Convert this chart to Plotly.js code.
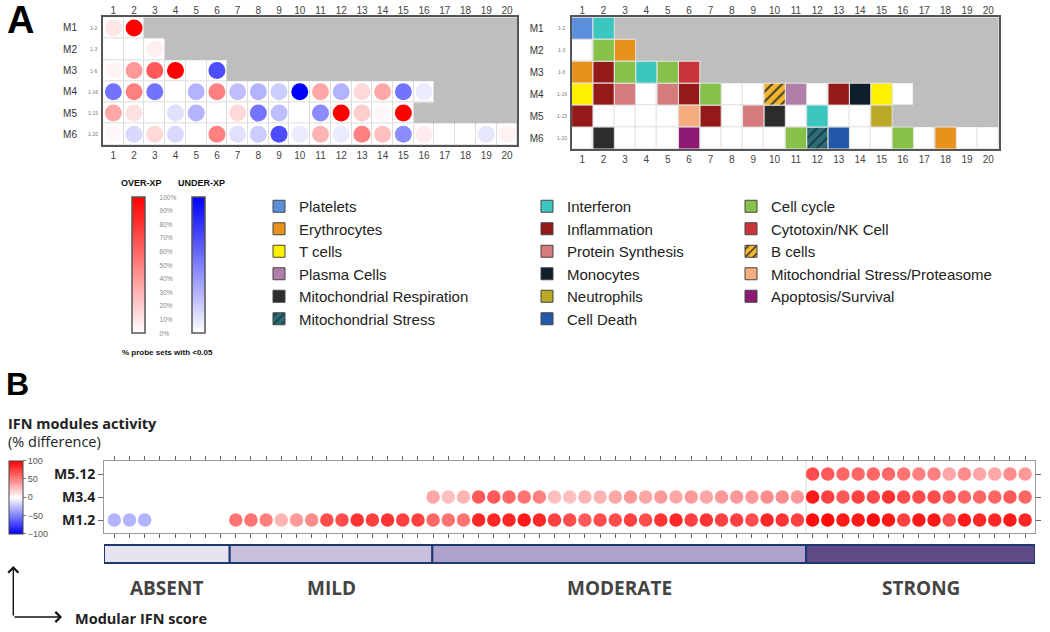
<!DOCTYPE html>
<html><head><meta charset="utf-8">
<script src="https://cdn.plot.ly/plotly-3.0.1.min.js"></script>
<style>html,body{margin:0;padding:0;background:#fff}#chart{width:1050px;height:632px}</style>
</head><body><div id="chart"></div>
<script>
// ---------------- Panel A data ----------------
const modules = ['M1','M2','M3','M4','M5','M6'];
const moduleRanges = ['1-2','1-3','1-6','1-16','1-15','1-20'];
const moduleCounts = [2,3,6,16,15,20];
const columns = [1,2,3,4,5,6,7,8,9,10,11,12,13,14,15,16,17,18,19,20];
// % probe sets (+ over-expressed, - under-expressed), null = no circle
const pctM1 = [10,100];
const pctM2 = [null,null,6];
const pctM3 = [4,40,65,100,null,-70];
const pctM4 = [-55,50,-55,null,-30,50,-25,-30,-20,-100,35,-30,15,35,-55,-8];
const pctM5 = [35,12,null,-12,-30,null,15,-55,-25,null,-45,100,20,3,100];
const pctM6 = [3,-15,15,-15,null,50,-12,-20,-70,-8,30,-8,50,25,-45,8,null,null,-10,5];
// functional annotation of each module (null = not annotated)
const annM1 = ['Platelets','Interferon'];
const annM2 = [null,'Cell cycle','Erythrocytes'];
const annM3 = ['Erythrocytes','Inflammation','Cell cycle','Interferon','Cell cycle','Cytotoxin/NK Cell'];
const annM4 = ['T cells','Inflammation','Protein Synthesis',null,'Protein Synthesis','Inflammation','Cell cycle',null,null,'B cells','Plasma Cells',null,'Inflammation','Monocytes','T cells',null];
const annM5 = ['Inflammation',null,null,null,null,'Mitochondrial Stress/Proteasome','Inflammation',null,'Protein Synthesis','Mitochondrial Respiration',null,'Interferon',null,null,'Neutrophils'];
const annM6 = [null,'Mitochondrial Respiration',null,null,null,'Apoptosis/Survival',null,null,null,null,'Cell cycle','Mitochondrial Stress','Cell Death',null,null,'Cell cycle',null,'Erythrocytes',null,null];
const legendCol1 = ['Platelets','Erythrocytes','T cells','Plasma Cells','Mitochondrial Respiration','Mitochondrial Stress'];
const legendCol2 = ['Interferon','Inflammation','Protein Synthesis','Monocytes','Neutrophils','Cell Death'];
const legendCol3 = ['Cell cycle','Cytotoxin/NK Cell','B cells','Mitochondrial Stress/Proteasome','Apoptosis/Survival'];
const pctTicks = [0,10,20,30,40,50,60,70,80,90,100];
const pctTickText = ['0%','10%','20%','30%','40%','50%','60%','70%','80%','90%','100%'];

// ---------------- Panel B data ----------------
const ifnModules = ['M1.2','M3.4','M5.12'];
const scoreM1_2 = [-30,-30,-30,null,null,null,null,null,
  55,55,50,30,40,45,70,70,80,75,80,75,75,
  60,55,55,85,85,85,90,85,75,70,65,70,70,75,70,80,85,75,80,75,75,70,85,80,75,
  95,95,90,90,95,90,75,90,90,70,90,85,85,90,85];
const scoreM3_4 = [null,null,null,null,null,null,null,null,
  null,null,null,null,null,null,null,null,null,null,null,null,null,
  35,25,30,65,65,60,55,50,25,25,30,30,35,40,35,40,35,40,35,40,40,40,45,45,40,
  90,75,65,75,70,80,70,70,70,65,60,60,60,65,60];
const scoreM5_12 = [null,null,null,null,null,null,null,null,
  null,null,null,null,null,null,null,null,null,null,null,null,null,
  null,null,null,null,null,null,null,null,null,null,null,null,null,null,null,null,null,null,null,null,null,null,null,null,null,
  70,65,60,60,60,60,55,50,50,35,45,35,35,45,40];
const scoreGroups = ['ABSENT','MILD','MODERATE','STRONG'];
const groupStart = [-0.68,7.6,20.95,45.57];
const groupEnd = [7.6,20.95,45.57,60.65];
const scaleTicks = [-100,-50,0,50,100];

// ---------------- styles ----------------
const W = 1050, H = 632;
const px = v => v / W, py = v => 1 - v / H;
const FA = 'Liberation Sans, Arial, sans-serif';
const FB = 'Open Sans, sans-serif';
const catStyle = {
  'Platelets':{c:'#5B8FDB'}, 'Erythrocytes':{c:'#E8921C'}, 'T cells':{c:'#FFF000'},
  'Plasma Cells':{c:'#B07EA8'}, 'Mitochondrial Respiration':{c:'#2A2D2A'},
  'Mitochondrial Stress':{c:'#2F6B75', h:'#173A40'}, 'Interferon':{c:'#3CC6C0'},
  'Inflammation':{c:'#941A1A'}, 'Protein Synthesis':{c:'#D57B7B'}, 'Monocytes':{c:'#0F1E2B'},
  'Neutrophils':{c:'#B9A927'}, 'Cell Death':{c:'#2159A8'}, 'Cell cycle':{c:'#86C24A'},
  'Cytotoxin/NK Cell':{c:'#C8343A'}, 'B cells':{c:'#F2B630', h:'#2A2A2A'},
  'Mitochondrial Stress/Proteasome':{c:'#F5AC7E'}, 'Apoptosis/Survival':{c:'#8D1A72'}
};
const groupColors = ['#E7E3EF','#C9C0DD','#AFA2CC','#5E4A85'];

const rowIdx = modules.map((m,i)=>i+1);
const pctRows = [pctM1,pctM2,pctM3,pctM4,pctM5,pctM6];
const annRows = [annM1,annM2,annM3,annM4,annM5,annM6];
const bgZ = rowIdx.map((r,i)=>columns.map(c=> c<=moduleCounts[i]?1:0));
const cellZ = rowIdx.map((r,i)=>columns.map(c=> c<=moduleCounts[i]?1:null));

const traces = [];
// base axis (bottom labels) carries the grey background; overlay axis (top labels) carries cells and marks
function gridBackground(xaBase, xaTop, ya){
  traces.push({type:'heatmap', x:columns, y:rowIdx, z:bgZ, xaxis:xaBase, yaxis:ya, zmin:0, zmax:1,
    colorscale:[[0,'#BEBEBE'],[1,'#DDDDDD']], showscale:false, hoverinfo:'skip'});
  traces.push({type:'heatmap', x:columns, y:rowIdx, z:cellZ, xaxis:xaTop, yaxis:ya, zmin:0, zmax:1,
    colorscale:[[0,'#FFFFFF'],[1,'#FFFFFF']], showscale:false, xgap:1, ygap:1, hoverinfo:'skip'});
}
gridBackground('x','x3','y');

// circles
const over = {x:[],y:[],c:[]}, under = {x:[],y:[],c:[]};
pctRows.forEach((row,i)=>row.forEach((v,j)=>{
  if(v===null) return;
  const t = v>=0?over:under;
  t.x.push(columns[j]); t.y.push(rowIdx[i]); t.c.push(Math.abs(v));
}));
const cbBase = {lenmode:'pixels', len:135.5, thicknessmode:'pixels', thickness:12.6, xanchor:'left',
  y:py(197.3), yanchor:'top', xpad:0, ypad:0, outlinewidth:1.5, outlinecolor:'#555', borderwidth:0};
traces.push({type:'scatter', mode:'markers', x:over.x, y:over.y, xaxis:'x3', yaxis:'y', showlegend:false, hoverinfo:'skip',
  marker:{size:17, color:over.c, cmin:0, cmax:100, colorscale:[[0,'#FFFFFF'],[1,'#FF0000']], line:{width:0}, showscale:true,
    colorbar:Object.assign({}, cbBase, {x:px(131.7), tickvals:pctTicks, ticktext:pctTickText, ticks:'outside', ticklen:13,
      tickcolor:'rgba(0,0,0,0)', tickfont:{family:FA, size:6.5, color:'#888'}})}});
traces.push({type:'scatter', mode:'markers', x:under.x, y:under.y, xaxis:'x3', yaxis:'y', showlegend:false, hoverinfo:'skip',
  marker:{size:17, color:under.c, cmin:0, cmax:100, colorscale:[[0,'#FFFFFF'],[1,'#0000FF']], line:{width:0}, showscale:true,
    colorbar:Object.assign({}, cbBase, {x:px(192.3), showticklabels:false, ticks:''})}});

// right grid
gridBackground('x2','x4','y2');
function catMarker(name, lineColor){
  const s = catStyle[name];
  const m = {color:s.c, line:{color:lineColor, width:1}};
  if(s.h) m.pattern = {shape:'/', fgcolor:s.h, bgcolor:s.c, size:7, solidity:0.25, fillmode:'replace'};
  return m;
}
Object.keys(catStyle).forEach(name=>{
  const xs=[], bs=[], ys=[];
  annRows.forEach((row,i)=>row.forEach((a,j)=>{ if(a===name){ xs.push(columns[j]); bs.push(rowIdx[i]-0.5); ys.push(1);} }));
  if(!xs.length) return;
  traces.push({type:'bar', x:xs, y:ys, base:bs, width:1, xaxis:'x4', yaxis:'y2', showlegend:false, hoverinfo:'skip',
    marker:catMarker(name,'#E4E4E4')});
});
// legend entries
[[legendCol1,'legend'],[legendCol2,'legend2'],[legendCol3,'legend3']].forEach(([names,lg])=>{
  names.forEach(name=>traces.push({type:'bar', x:[null], y:[null], name:name, legend:lg, xaxis:'x4', yaxis:'y2',
    showlegend:true, hoverinfo:'skip', marker:catMarker(name,'#444')}));
});

// Panel B dots
const bx=[], by=[], bc=[];
[scoreM1_2, scoreM3_4, scoreM5_12].forEach((row,i)=>row.forEach((v,j)=>{
  if(v===null) return; bx.push(j); by.push(i); bc.push(v);
}));
const patientIdx = scoreM1_2.map((v,j)=>j);
traces.push({type:'scatter', mode:'markers', x:bx, y:by, xaxis:'x5', yaxis:'y5', showlegend:false, hoverinfo:'skip',
  marker:{size:13.5, color:bc, cmin:-100, cmax:100, colorscale:[[0,'#0000FF'],[0.5,'#FFFFFF'],[1,'#FF0000']], line:{width:0},
    showscale:true, colorbar:{x:px(9), xanchor:'left', y:py(460.7), yanchor:'top', lenmode:'pixels', len:73.3,
      thicknessmode:'pixels', thickness:14, xpad:0, ypad:0, outlinewidth:1, outlinecolor:'#444', tickvals:scaleTicks,
      ticks:'outside', ticklen:3, tickcolor:'#777', tickfont:{family:FA, size:9, color:'#555'}}}});

// severity bar
traces.push({type:'bar', orientation:'h', y:scoreGroups.map(()=>0), base:groupStart,
  x:groupEnd.map((e,i)=>e-groupStart[i]), width:1, xaxis:'x6', yaxis:'y6', showlegend:false, hoverinfo:'skip', cliponaxis:false,
  marker:{color:groupColors, line:{color:'#1C3A70', width:2}}});

// ---------------- layout ----------------
const gx = (domain)=>({domain, range:[0.5,20.5], tickvals:columns, ticks:'', showgrid:false, zeroline:false,
  showline:true, linecolor:'#555', linewidth:2, mirror:true, tickfont:{family:FA, size:10, color:'#444'}, fixedrange:true});
const gy = (domain, standoff)=>({domain, range:[6.5,0.5], tickvals:rowIdx, ticktext:modules, ticks:'', showgrid:false,
  zeroline:false, showline:true, linecolor:'#555', linewidth:2, mirror:true, ticklabelstandoff:standoff,
  tickfont:{family:FA, size:10, color:'#333'}, fixedrange:true});
const gxTop = (base, anchor)=>({overlaying:base, side:'top', anchor, range:[0.5,20.5], tickvals:columns, ticks:'',
  showgrid:false, zeroline:false, showline:false, tickfont:{family:FA, size:10, color:'#444'}, fixedrange:true});

const annotations = [];
const A = (o)=>annotations.push(Object.assign({showarrow:false, xref:'paper', yref:'paper'}, o));
A({text:'<b>A</b>', x:px(5), y:py(19.5), xanchor:'left', yanchor:'middle', font:{family:FA, size:38, color:'#000'}});
A({text:'<b>B</b>', x:px(4), y:py(384), xanchor:'left', yanchor:'middle', font:{family:FA, size:32, color:'#000'}});
moduleRanges.forEach((t,i)=>{
  A({text:t, x:px(93), yref:'y', y:rowIdx[i], xanchor:'center', yanchor:'middle', font:{family:FA, size:5, color:'#777'}});
  A({text:t, x:px(561.5), yref:'y2', y:rowIdx[i], xanchor:'center', yanchor:'middle', font:{family:FA, size:5, color:'#777'}});
});
A({text:'<b>OVER-XP</b>', x:px(141), y:py(183.3), xanchor:'center', yanchor:'middle', font:{family:FA, size:9, color:'#111'}});
A({text:'<b>UNDER-XP</b>', x:px(201), y:py(183.3), xanchor:'center', yanchor:'middle', font:{family:FA, size:9, color:'#111'}});
A({text:'<b>% probe sets with <0.05</b>', x:px(167), y:py(352), xanchor:'center', yanchor:'middle', font:{family:FA, size:8, color:'#111'}});
A({text:'<b>IFN modules activity</b>', x:px(6), y:py(423), xanchor:'left', yanchor:'middle', font:{family:FB, size:14.5, color:'#222'}});
A({text:'(% difference)', x:px(6), y:py(442), xanchor:'left', yanchor:'middle', font:{family:FB, size:14.5, color:'#222'}});
A({text:'<b>Modular IFN score</b>', x:px(73), y:py(618), xanchor:'left', yanchor:'middle', font:{family:FB, size:14.5, color:'#222'}});
scoreGroups.forEach((g,i)=>A({text:'<b>'+g+'</b>', xref:'x6', x:(groupStart[i]+groupEnd[i])/2, y:py(588), xanchor:'center',
  yanchor:'middle', font:{family:FB, size:19, color:'#444'}}));
// axis arrows
annotations.push({text:'', xref:'paper', yref:'paper', x:px(13.3), y:py(566), ax:0, ay:51, showarrow:true, arrowhead:4,
  arrowsize:1.4, arrowwidth:1.4, arrowcolor:'#111'});
annotations.push({text:'', xref:'paper', yref:'paper', x:px(62), y:py(617), ax:-49, ay:0, showarrow:true, arrowhead:4,
  arrowsize:1.4, arrowwidth:1.4, arrowcolor:'#111'});

const lg = (x, yTop)=>({x:px(x), y:py(yTop), xanchor:'left', yanchor:'top', bgcolor:'rgba(0,0,0,0)', borderwidth:0,
  font:{family:FA, size:15, color:'#222'}, tracegroupgap:0, itemclick:false, itemdoubleclick:false});

const layout = {
  width:W, height:H, margin:{l:0,r:0,t:0,b:0}, paper_bgcolor:'#fff', plot_bgcolor:'#fff',
  barmode:'overlay', hovermode:false, showlegend:true,
  legend:lg(259,190), legend2:lg(527,190), legend3:lg(731,190),
  xaxis:Object.assign(gx([px(103),px(517.3)]),{anchor:'y'}),
  yaxis:Object.assign(gy([py(145),py(17.3)],22),{anchor:'x'}),
  xaxis3:gxTop('x','y'),
  xaxis2:Object.assign(gx([px(571.6),px(999)]),{anchor:'y2'}),
  yaxis2:Object.assign(gy([py(149),py(17.3)],24),{anchor:'x2'}),
  xaxis4:gxTop('x2','y2'),
  xaxis5:{domain:[px(104),px(1035)], anchor:'y5', range:[-0.68,60.65], tickvals:patientIdx, ticks:'outside', ticklen:4,
    tickcolor:'#666', tickwidth:1, showticklabels:false, showline:true, linecolor:'#999', linewidth:1, mirror:'ticks',
    showgrid:false, zeroline:false, fixedrange:true},
  yaxis5:{domain:[py(533),py(461)], anchor:'x5', range:[-0.565,2.565], tickvals:[0,1,2], ticktext:ifnModules.map(t=>'<b>'+t+'</b>'),
    ticks:'outside', ticklen:5, tickcolor:'#666', showline:true, linecolor:'#999', linewidth:1, mirror:'ticks',
    showgrid:false, zeroline:false, tickfont:{family:FB, size:14, color:'#222'}, fixedrange:true},
  xaxis6:{domain:[px(104),px(1035)], anchor:'y6', range:[-0.68,60.65], visible:false, fixedrange:true},
  yaxis6:{domain:[py(564.8),py(543.2)], anchor:'x6', range:[-0.6,0.6], visible:false, fixedrange:true},
  shapes:[{type:'line', xref:'x5', yref:'y5 domain', x0:groupStart[3], x1:groupStart[3], y0:0, y1:1,
    line:{color:'#D8D8D8', width:1}, layer:'below'}],
  annotations
};
Plotly.newPlot('chart', traces, layout, {displayModeBar:false, staticPlot:true});
</script></body></html>
